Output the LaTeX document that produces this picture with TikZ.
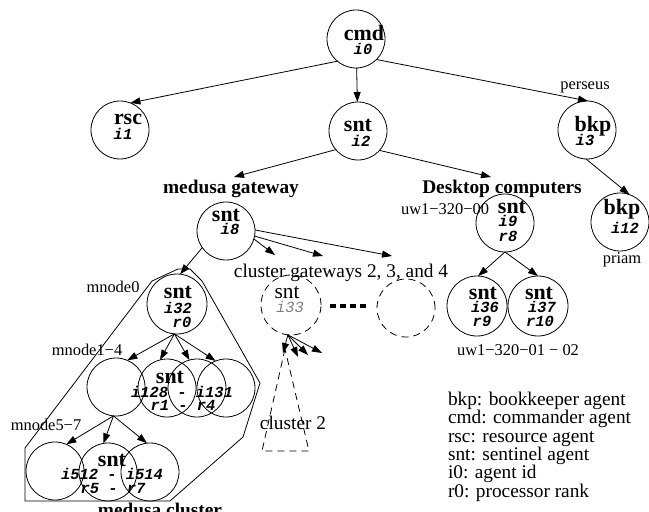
\documentclass[tikz,border=0pt]{standalone}
\usepackage{fontspec}
\setmainfont{Liberation Serif}
\setmonofont{Liberation Mono}
\usetikzlibrary{arrows.meta}
\begin{document}
\begin{tikzpicture}[x=1bp,y=-1bp,
  every node/.style={inner sep=0pt,outer sep=0pt},
  circ/.style={draw,circle,minimum size=58bp,line width=0.8bp},
  dcirc/.style={circ,dash pattern=on 7bp off 5bp},
  arr/.style={line width=0.8bp,-{Triangle[length=10bp,width=7bp]}},
  xlb/.style={anchor=base,font=\fontsize{22}{24}\selectfont\bfseries},
  xrg/.style={anchor=base,font=\fontsize{21.4}{24}\selectfont},
  xid/.style={anchor=base,font=\fontsize{15.5}{16}\selectfont\ttfamily\bfseries\itshape},
  xidg/.style={anchor=base,text=black!50,font=\fontsize{15.5}{16}\selectfont\ttfamily\itshape},
  xsm/.style={anchor=base,font=\fontsize{16.5}{18}\selectfont},
  xbg/.style={anchor=base,font=\fontsize{19.4}{20}\selectfont},
  xbgb/.style={anchor=base,font=\fontsize{19.4}{20}\selectfont\bfseries},
  xleg/.style={xbg,anchor=base west}]
\useasboundingbox (0,0) rectangle (649,512);

% circles
\node[circ] (cmd) at (356,39) {};
\node[circ] (rsc) at (120,130) {};
\node[circ] (n2) at (358,131) {};
\node[circ] (n3) at (587,130) {};
\node[circ] (n12) at (620,222) {};
\node[circ] (n8) at (226,231) {};
\node[circ] (n9) at (505,223) {};
\node[circ,minimum size=60bp] (n32) at (177,304) {};
\node[dcirc,minimum size=60bp] (n33) at (291,305) {};
\node[dcirc] (nx) at (406,308) {};
\node[circ,minimum size=60bp] (n36) at (477,306) {};
\node[circ,minimum size=60bp] (n37) at (538,306) {};
\node[circ] (m1a) at (116,387) {};
\node[circ] (m1b) at (167,388) {};
\node[circ] (m1c) at (197,388) {};
\node[circ] (m1d) at (226,388) {};
\node[circ] (m5a) at (55,471) {};
\node[circ] (m5b) at (108,472) {};
\node[circ] (m5c) at (150,472) {};

% texts in circles
\node[xlb] (tcmd) at (364,41) {cmd};
\node[xid] (icmd) at (363,55) {i0};
\node[xlb] (trsc) at (128,125) {rsc};
\node[xid] (irsc) at (123,140) {i1};
\node[xlb] (tn2) at (358,132) {snt};
\node[xid] (in2) at (361,147) {i2};
\node[xlb] (tn3) at (593,132) {bkp};
\node[xid] (in3) at (585,146) {i3};
\node[xlb] (tn12) at (622,215) {bkp};
\node[xid] (in12) at (625,234) {i12};
\node[xlb] (tn8) at (226,222) {snt};
\node[xid] (in8) at (230,235) {i8};
\node[xlb] (tn9) at (512,214) {snt};
\node[xid] (in9) at (508,227) {i9};
\node[xid] (rn9) at (508,242) {r8};
\node[xlb] (tn32) at (178,298) {snt};
\node[xid] (in32) at (178,313) {i32};
\node[xid] (rn32) at (182,327) {r0};
\node[xrg] (tn33) at (287,298) {snt};
\node[xidg] (in33) at (290,312) {i33};
\node[xlb] (tn36) at (483,299) {snt};
\node[xid] (in36) at (485,312) {i36};
\node[xid] (rn36) at (482,326) {r9};
\node[xlb] (tn37) at (539,299) {snt};
\node[xid] (in37) at (542,312) {i37};
\node[xid] (rn37) at (540,326) {r10};
\node[xlb] (tm1) at (170,383) {snt};
\node[xid] (im1) at (182,397) {i128 - i131};
\node[xid] (rm1) at (183,410) {r1 - r4};
\node[xlb] (tm5) at (112,466) {snt};
\node[xid] (im5) at (112,479) {i512 - i514};
\node[xid] (rm5) at (113,493) {r5 - r7};

% labels
\node[xsm] (perseus) at (585,90) {perseus};
\node[xsm] (priam) at (622,263) {priam};
\node[xbgb] (desk) at (502,194) {Desktop computers};
\node[xsm] (uw0) at (445,215) {uw1−320−00};
\node[xbgb] (mg) at (231,194) {medusa gateway};
\node[xsm] (mn0) at (113,292) {mnode0};
\node[xsm] (mn14) at (87,355) {mnode1−4};
\node[xsm] (mn57) at (46,430) {mnode5−7};
\node[xbg] (cg) at (341,277) {cluster gateways 2, 3, and 4};
\node[xsm] (uw12) at (518,355) {uw1−320−01 − 02};
\node[xbg] (cl2) at (293,429) {cluster 2};
\node[xbgb] (mcl) at (160,516) {medusa cluster};

% legend
\node[xleg] (l1) at (448,405) {bkp: bookkeeper agent};
\node[xleg] (l2) at (448,423) {cmd: commander agent};
\node[xleg] (l3) at (448,442) {rsc: resource agent};
\node[xleg] (l4) at (448,460) {snt: sentinel agent};
\node[xleg] (l5) at (448,478) {i0: agent id};
\node[xleg] (l6) at (448,497) {r0: processor rank};

% medusa cluster outline
\draw[line width=0.8bp] (152,281) -- (178,269) -- (190,269) -- (202,281) -- (260,383)
  -- (243,437) -- (170,501) -- (25,501) -- (25,448) -- cycle;
% cluster 2 triangle
\draw[line width=0.8bp,dash pattern=on 7bp off 5bp] (285,349) -- (262,451) -- (309,451) -- cycle;
% dots between gateways
\coordinate (d1) at (330,306);
\coordinate (d2) at (366,306);
\draw[line width=3.5bp,dash pattern=on 6bp off 4bp] (d1) -- (d2);

% connectors
\coordinate (mgtip) at (234,177);
\coordinate (dctip) at (491,177);
\coordinate (g1) at (275,255);
\coordinate (g2) at (323,256);
\coordinate (g3) at (392,256);
\coordinate (c1) at (283,353);
\coordinate (c2) at (298,357);
\coordinate (c3) at (308,355);
\coordinate (c4) at (322,353);

\draw[arr] (cmd.230) -- (rsc.69);
\draw[arr] (cmd) -- (n2);
\draw[arr] (cmd.315) -- (n3.88);
\draw[arr] (n3.268) -- (n12.71);
\draw[arr] (n2.220) -- (mgtip);
\draw[arr] (n2.318) -- (dctip);
\draw[arr] (n8.215) -- (n32.84);
\draw[arr] (n8.344) -- (g1);
\draw[arr] (n8.350) -- (g2);
\draw[arr] (n8.2) -- (g3);
\draw[arr] (n9.south) -- (n36.88);
\draw[arr] (n9.south) -- (n37.90);
\draw[arr] (n32.265) -- (m1a.67);
\draw[arr] (n32.265) -- (m1b.104);
\draw[arr] (n32.265) -- (m1c.105);
\draw[arr] (n32.265) -- (m1d.111);
\draw[arr] (m1a.265) -- (m5a.67);
\draw[arr] (m1a.265) -- (m5b.99);
\draw[arr] (m1a.265) -- (m5c.96);
\draw[arr] (n33.264) -- (c1);
\draw[arr] (n33.264) -- (c2);
\draw[arr] (n33.264) -- (c3);
\draw[arr] (n33.264) -- (c4);
\end{tikzpicture}
\end{document}
